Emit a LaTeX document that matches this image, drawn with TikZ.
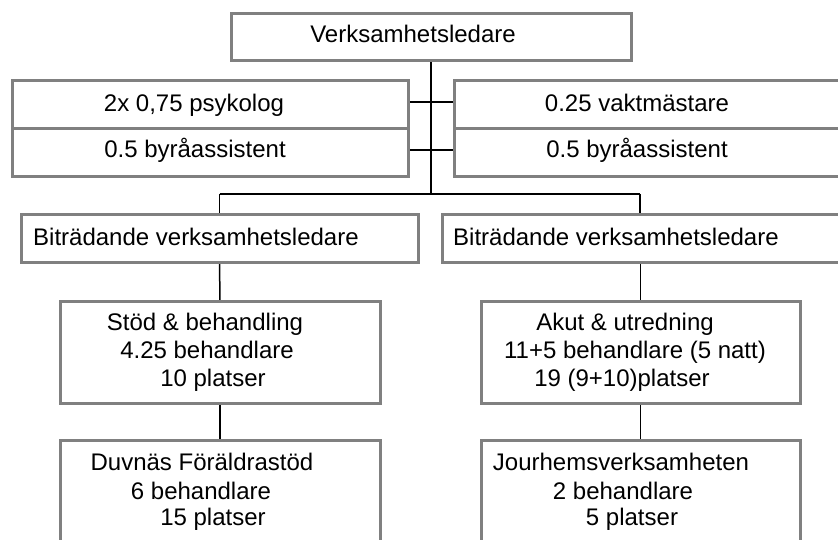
\documentclass[tikz,border=0pt]{standalone}
\usepackage{fontspec}
\setmainfont{Liberation Sans}
\usetikzlibrary{backgrounds}
\definecolor{boxgray}{HTML}{808080}
\begin{document}
\begin{tikzpicture}[x=1pt,y=-1pt,
  box/.style={draw=boxgray,line width=3pt,fill=white,inner sep=0pt,outer sep=0pt},
  txt/.style={inner sep=0pt,anchor=base,font=\fontsize{24}{28}\selectfont},
  txtw/.style={txt,anchor=base west},
  conn/.style={draw=black,line width=1.5pt}]
\useasboundingbox (0,0) rectangle (838,540);
\clip (0,0) rectangle (838,540);
% boxes
\node[box,minimum width=400pt,minimum height=47pt] (top) at (431,37.5) {};
\node[box,minimum width=396pt,minimum height=48pt] (lp1) at (210,105) {};
\node[box,minimum width=396pt,minimum height=48pt] (lp2) at (210,153) {};
\node[box,minimum width=390pt,minimum height=48pt] (rp1) at (649,105) {};
\node[box,minimum width=390pt,minimum height=48pt] (rp2) at (649,153) {};
\node[box,minimum width=397pt,minimum height=47pt] (bl) at (219.5,238.5) {};
\node[box,minimum width=404pt,minimum height=47pt] (br) at (644,238.5) {};
\node[box,minimum width=320pt,minimum height=102pt] (sb) at (220,352) {};
\node[box,minimum width=319pt,minimum height=102pt] (au) at (640.5,352) {};
\node[box,minimum width=320pt,minimum height=130pt] (du) at (220,505) {};
\node[box,minimum width=319pt,minimum height=130pt] (jo) at (640.5,505) {};
% connectors
\coordinate (barL) at (219.5,194);
\coordinate (barR) at (640,194);
\begin{scope}[on background layer]
\draw[conn] (top.south) -- (top.south |- barL);
\draw[conn] (barL) -- (barR);
\draw[conn] (barL) -- (bl.north);
\draw[conn] (barR) -- (barR |- br.north);
\draw[conn] ([yshift=3pt]lp1.east) -- ([yshift=3pt]rp1.west);
\draw[conn] ([yshift=3pt]lp2.east) -- ([yshift=3pt]rp2.west);
\draw[conn] (bl.south) -- (sb.north);
\draw[conn] (sb.south) -- (du.north);
\draw[conn] (au.north |- br.south) -- (au.north);
\draw[conn] (au.south) -- (jo.north);
\end{scope}
% texts
\node[txt] (ttop) at (413,43) {Verksamhetsledare};
\node[txt] (tlp1) at (194,112) {2x 0,75 psykolog};
\node[txt] (tlp2) at (195,158) {0.5 byråassistent};
\node[txt] (trp1) at (637,112) {0.25 vaktmästare};
\node[txt] (trp2) at (637,158) {0.5 byråassistent};
\node[txtw] (tbl) at (33,245) {Biträdande verksamhetsledare};
\node[txtw] (tbr) at (453,245) {Biträdande verksamhetsledare};
\node[txt] (tsb1) at (205,330) {Stöd \& behandling};
\node[txt] (tsb2) at (207,358) {4.25 behandlare};
\node[txt] (tsb3) at (213,386) {10 platser};
\node[txt] (tau1) at (625,330) {Akut \& utredning};
\node[txt] (tau2) at (635,358) {11+5 behandlare (5 natt)};
\node[txt] (tau3) at (622,386) {19 (9+10)platser};
\node[txt] (tdu1) at (202,470) {Duvnäs Föräldrastöd};
\node[txt] (tdu2) at (201,499) {6 behandlare};
\node[txt] (tdu3) at (213,525) {15 platser};
\node[txt] (tjo1) at (621,470) {Jourhemsverksamheten};
\node[txt] (tjo2) at (623,499) {2 behandlare};
\node[txt] (tjo3) at (632,525) {5 platser};
\end{tikzpicture}
\end{document}
